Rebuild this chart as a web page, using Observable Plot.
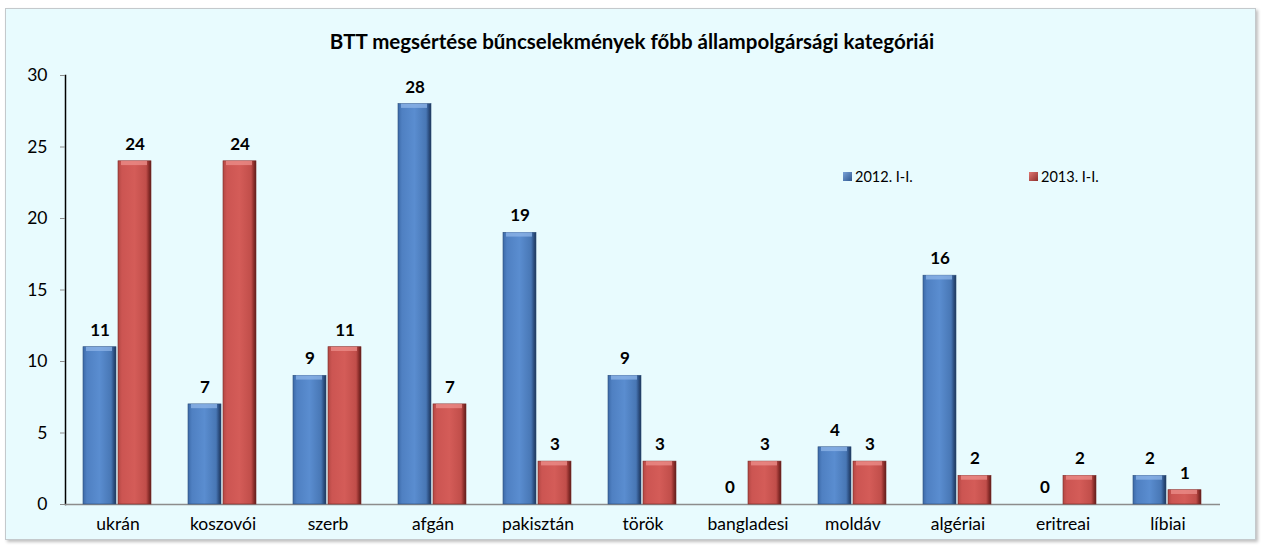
<!DOCTYPE html>
<html><head><meta charset="utf-8">
<script src="https://cdn.jsdelivr.net/npm/d3@7"></script>
<script src="https://cdn.jsdelivr.net/npm/@observablehq/plot@0.6"></script>
<style>
html,body{margin:0;padding:0;background:#fff;}
#wrap{position:relative;width:1261px;height:546px;overflow:hidden;font-family:Lato,"Open Sans",sans-serif;}
#panel{position:absolute;left:5px;top:8px;width:1249px;height:530px;background:#E8FBFE;border:1px solid #c4c9cc;box-shadow:2px 2px 3px rgba(0,0,0,0.25);}
#title{position:absolute;left:0;width:1264px;top:29px;text-align:center;font-weight:bold;font-size:20.5px;color:#000;}
#chart{position:absolute;left:0;top:0;}
.leg{position:absolute;top:168px;font-size:14.5px;color:#000;display:flex;align-items:center;}
.leg span.sw{display:inline-block;width:9px;height:9px;margin-right:3px;}
</style></head>
<body>
<div id="wrap">
  <div id="panel"></div>
  <div id="title">BTT megsértése bűncselekmények főbb állampolgársági kategóriái</div>
  <div id="chart"></div>
  <div class="leg" style="left:843px"><span class="sw" style="background:linear-gradient(135deg,#7aa3d8,#2f5790)"></span>2012. I-I.</div>
  <div class="leg" style="left:1029px"><span class="sw" style="background:linear-gradient(135deg,#e07773,#8e2f2c)"></span>2013. I-I.</div>
</div>
<script>
const countries = ["ukrán","koszovói","szerb","afgán","pakisztán","török","bangladesi","moldáv","algériai","eritreai","líbiai"];
const series = ["2012. I-I.","2013. I-I."];
const values2012 = [11,7,9,28,19,9,0,4,16,0,2];
const values2013 = [24,24,11,7,3,3,3,3,2,2,1];
const yTicks = [0,5,10,15,20,25,30];

const data = [];
countries.forEach((c,i)=>{
  data.push({country:c, series:series[0], value:values2012[i]});
  data.push({country:c, series:series[1], value:values2013[i]});
});
const d12 = data.filter(d=>d.series===series[0]);
const d13 = data.filter(d=>d.series===series[1]);
const capOf = d => Math.max(0, d.value - 0.3);

const plot = Plot.plot({
  width:1261, height:546,
  marginLeft:60, marginRight:36, marginTop:75, marginBottom:42,
  style:{background:"transparent", fontFamily:"Lato, 'Open Sans', sans-serif", fontSize:"17.5px", color:"#000", overflow:"visible"},
  fx:{domain:countries, padding:0, label:null, axis:"bottom", tickSize:0, tickPadding:13},
  x:{domain:series, paddingInner:0.056, paddingOuter:0.5, axis:null},
  y:{domain:[0,30], ticks:yTicks, label:null, tickSize:5, tickPadding:13, line:true},
  marks:[
    Plot.ruleY([0], {stroke:"#8c8c8c", strokeWidth:1.5}),
    Plot.barY(d12, {fx:"country", x:"series", y:"value", fill:"url(#gBlue)", stroke:"#2c4d7a", strokeWidth:0.6}),
    Plot.barY(d13, {fx:"country", x:"series", y:"value", fill:"url(#gRed)", stroke:"#7a2826", strokeWidth:0.6}),
    Plot.barY(d12.filter(d=>d.value>0), {fx:"country", x:"series", y1:capOf, y2:"value", fill:"#8fb6e8", fillOpacity:0.75, insetLeft:3, insetRight:4}),
    Plot.barY(d13.filter(d=>d.value>0), {fx:"country", x:"series", y1:capOf, y2:"value", fill:"#ec8f8b", fillOpacity:0.75, insetLeft:3, insetRight:4}),
    Plot.text(data, {fx:"country", x:"series", y:"value", text:d=>String(d.value), dy:-17, fontWeight:"bold", fontSize:17, fill:"#000"})
  ]
});

// gradients
const svg = d3.select(plot);
const defs = svg.insert("defs", ":first-child");
function grad(id, stops){
  const g = defs.append("linearGradient").attr("id", id).attr("x1","0").attr("x2","1").attr("y1","0").attr("y2","0");
  stops.forEach(([o,c])=>g.append("stop").attr("offset",o).attr("stop-color",c));
}
grad("gBlue", [[0,"#3c6aa8"],[0.12,"#4f80c2"],[0.5,"#5a8dd0"],[0.85,"#4877b5"],[0.93,"#2e5184"],[1,"#1f3658"]]);
grad("gRed", [[0,"#b34844"],[0.12,"#cc5552"],[0.5,"#d45c58"],[0.85,"#c14e4a"],[0.93,"#8e2f2c"],[1,"#5e1d1b"]]);
svg.selectAll("[aria-label='y-axis tick'] path, [aria-label='y-axis tick']").attr("stroke","#8c8c8c");
svg.selectAll("[aria-label='frame']").attr("stroke","#8c8c8c").attr("stroke-width",1.5);
document.getElementById("chart").appendChild(plot);
</script>
</body></html>
